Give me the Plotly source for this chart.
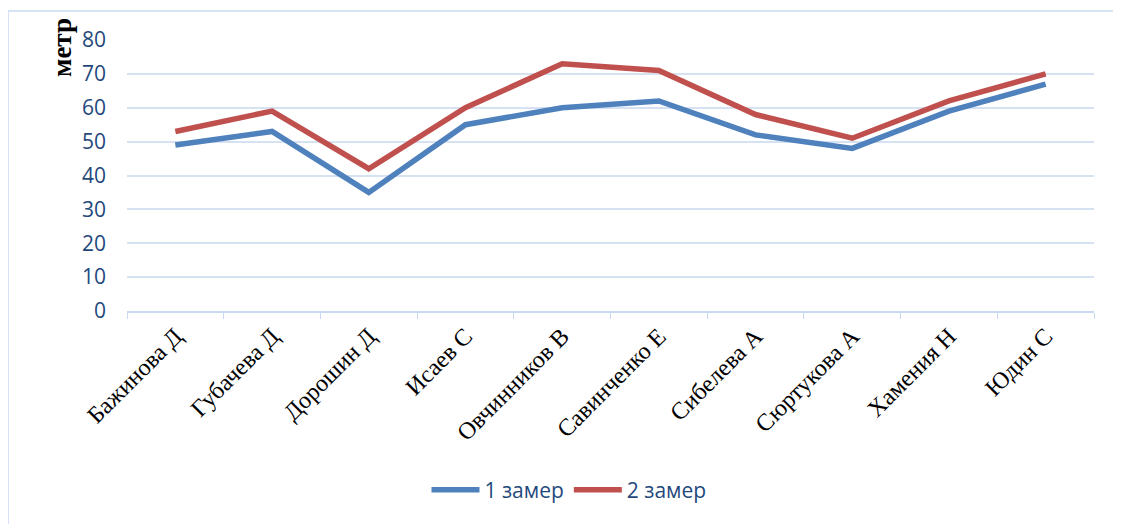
import plotly.graph_objects as go

categories = ["Бажинова Д", "Губачева Д", "Дорошин Д", "Исаев С", "Овчинников В",
              "Савинченко Е", "Сибелева А", "Сюртукова А", "Хамения Н", "Юдин С"]
zamer1 = [49, 53, 35, 55, 60, 62, 52, 48, 59, 67]
zamer2 = [53, 59, 42, 60, 73, 71, 58, 51, 62, 70]
series_names = ["1 замер", "2 замер"]
y_ticks = [0, 10, 20, 30, 40, 50, 60, 70, 80]

W, H = 1121, 524
OFF = 8  # page body margin
L, T = 127 - OFF, 40 - OFF
pw, ph = 967, 271
R = W - L - pw
B = H - T - ph


def px_x(x):
    return (x - OFF - L) / pw


def px_y(y):
    return 1 - (y - OFF - T) / ph


fig = go.Figure()
fig.add_trace(go.Scatter(x=categories, y=zamer1, mode="lines", name=series_names[0],
                         line=dict(color="#4F81BD", width=5.5)))
fig.add_trace(go.Scatter(x=categories, y=zamer2, mode="lines", name=series_names[1],
                         line=dict(color="#C0504D", width=5.5)))

border = dict(color="#C9DAF0", width=1.5)
fig.update_layout(
    width=W, height=H,
    margin=dict(l=L, r=R, t=T, b=B),
    paper_bgcolor="white", plot_bgcolor="white",
    showlegend=True,
    legend=dict(orientation="h", x=px_x(569), xanchor="center",
                y=px_y(490), yanchor="middle", itemwidth=48,
                font=dict(family="Open Sans, Liberation Sans, sans-serif", size=21, color="#1F497D"),
                traceorder="normal"),
    xaxis=dict(type="category", tickangle=-45, tickson="boundaries",
               ticks="outside", ticklen=6, tickcolor="#C9DAF0",
               showline=True, linecolor="#C9DAF0", linewidth=1.5,
               showgrid=False, range=[-0.5, len(categories) - 0.5],
               tickfont=dict(family="Liberation Serif, Times New Roman, serif", size=24, color="black")),
    yaxis=dict(range=[0, 80], tickvals=y_ticks, showgrid=True, gridcolor="#D6E2F2", gridwidth=1.5,
               zeroline=False, showline=False, ticks="", ticklabelstandoff=20,
               tickfont=dict(family="Open Sans, Liberation Sans, sans-serif", size=21, color="#1F497D")),
    shapes=[
        dict(type="line", xref="paper", yref="paper",
             x0=px_x(8), x1=px_x(W + 40), y0=px_y(11), y1=px_y(11), line=border, layer="below"),
        dict(type="line", xref="paper", yref="paper",
             x0=px_x(8), x1=px_x(8), y0=px_y(11), y1=px_y(H + 40), line=border, layer="below"),
    ],
    annotations=[dict(text="<b>метр</b>", textangle=-90, xref="paper", yref="paper",
                      x=px_x(62), y=px_y(48),
                      xanchor="center", yanchor="middle", showarrow=False,
                      font=dict(family="Liberation Serif, Times New Roman, serif", size=27, color="black"))],
)

fig.write_html("out.html")
